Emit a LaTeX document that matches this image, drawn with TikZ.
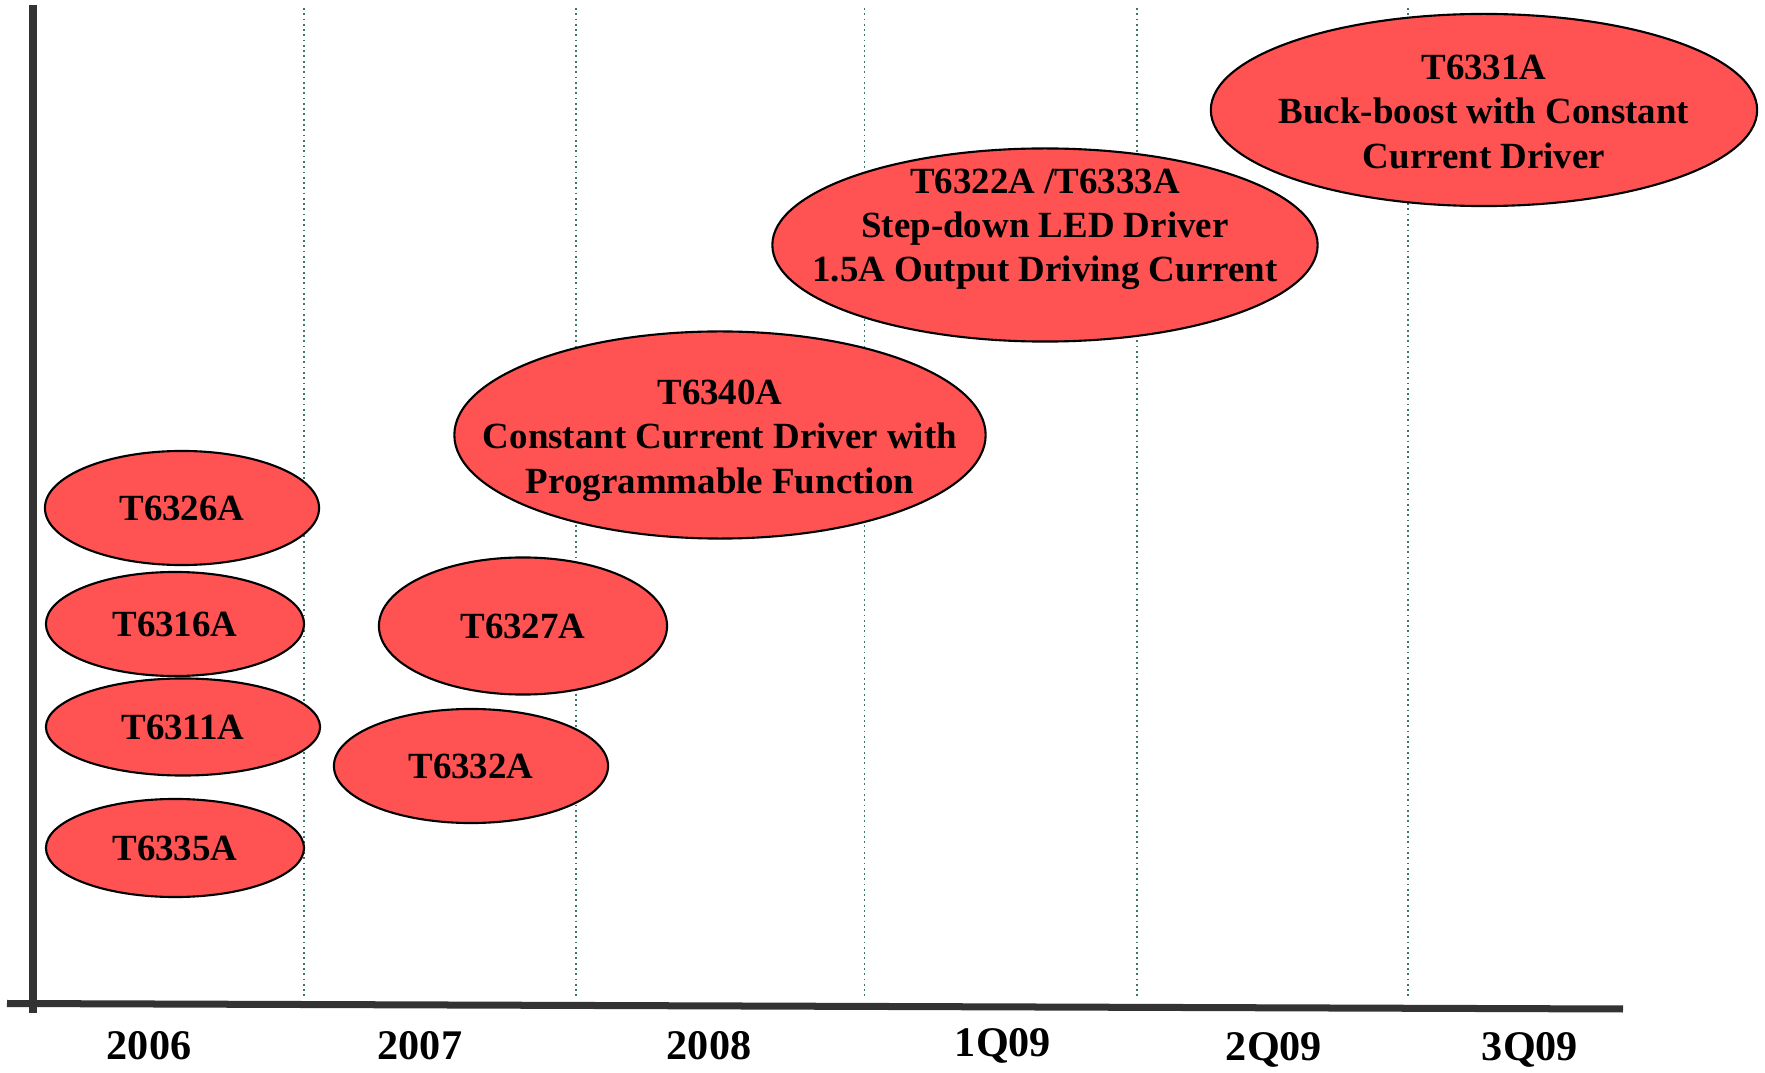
\documentclass[tikz,border=0pt]{standalone}
\usepackage{fontspec}
\setmainfont{Liberation Serif}
\usetikzlibrary{shapes.geometric}
\definecolor{chipred}{RGB}{255,83,83}
\definecolor{axisgrey}{RGB}{51,51,51}
\definecolor{gridgreen}{RGB}{60,118,100}
\tikzset{
	chip/.style={ellipse, draw=black, line width=0.6pt, fill=chipred, inner sep=0pt, align=center, font=\fontsize{10.5}{12.6}\selectfont\bfseries},
	chiptext/.style={align=center, font=\fontsize{10.5}{12.6}\selectfont\bfseries},
	yearlbl/.style={font=\fontsize{12}{14}\selectfont\bfseries},
	divider/.style={gridgreen, line width=0.5pt, dash pattern=on 0.5pt off 1pt}
}

\begin{document}
\begin{tikzpicture}[x=0.01cm, y=-0.01cm]
		%%%%% START %%%%%
		\useasboundingbox (0, 0) rectangle (1765, 1073);
		
		% dividers between periods
		\foreach \xx in {304, 576, 864.5, 1137, 1408}
			\draw[divider] (\xx, 8) -- (\xx, 998);
		
		% axes
		\draw[axisgrey, line width=0.073cm] (33, 5) -- (33, 1013);
		\draw[axisgrey, line width=0.07cm] (7, 1003.5) -- (1623, 1009);
		
		% 2006
		\node[chip, minimum width=2.74cm, minimum height=1.14cm] (t6326) at (182, 508) {T6326A};
		\node[chip, minimum width=2.58cm, minimum height=1.04cm] (t6316) at (175, 624) {T6316A};
		\node[chip, minimum width=2.74cm, minimum height=0.97cm] (t6311) at (183, 727) {T6311A};
		\node[chip, minimum width=2.58cm, minimum height=0.98cm] (t6335) at (175, 848) {T6335A};
		
		% 2007
		\node[chip, minimum width=2.88cm, minimum height=1.37cm] (t6327) at (523, 626) {T6327A};
		\node[chip, minimum width=2.74cm, minimum height=1.14cm] (t6332) at (471, 766) {T6332A};
		
		% 2008
		\node[chip, minimum width=5.31cm, minimum height=2.07cm] (t6340) at (720, 435) {};
		\node[chiptext] (t6340txt) at (720, 440.5) {T6340A\\Constant Current Driver with\\Programmable Function};
		
		% 1Q09
		\node[chip, minimum width=5.45cm, minimum height=1.93cm] (t6322) at (1045, 245) {};
		\node[chiptext] (t6322txt) at (1045, 229.5) {T6322A /T6333A\\Step-down LED Driver\\1.5A Output Driving Current};
		
		% 3Q09
		\node[chip, minimum width=5.46cm, minimum height=1.92cm] (t6331) at (1484, 110) {};
		\node[chiptext] (t6331txt) at (1484, 112) {T6331A\\Buck-boost with Constant\\Current Driver};
		
		% period labels
		\node[yearlbl] (y2006) at (149, 1046) {2006};
		\node[yearlbl] (y2007) at (420, 1046) {2007};
		\node[yearlbl] (y2008) at (709, 1046) {2008};
		\node[yearlbl] (y1q09) at (1003, 1046) {1Q09};
		\node[yearlbl] (y2q09) at (1274, 1050) {2Q09};
		\node[yearlbl] (y3q09) at (1530, 1050) {3Q09};
		
		%%%%% END %%%%%
	\end{tikzpicture}
\end{document}
